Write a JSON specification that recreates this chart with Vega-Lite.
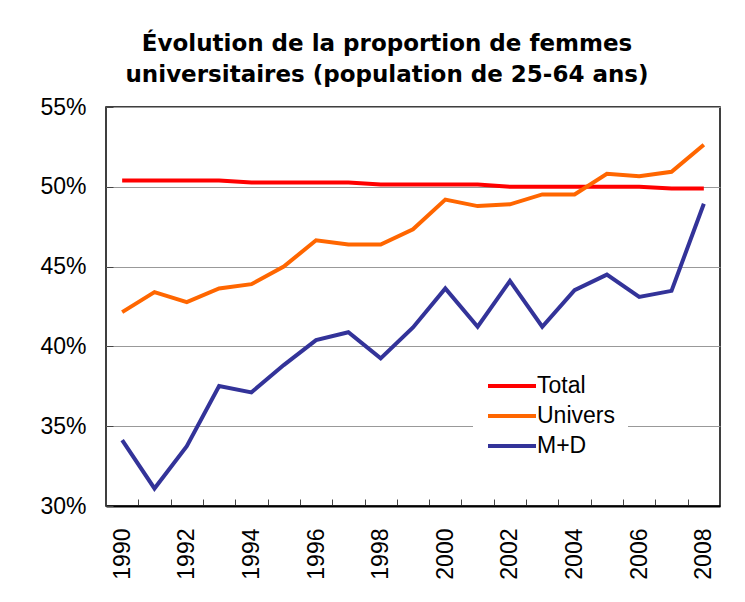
{
  "$schema": "https://vega.github.io/schema/vega-lite/v6.json",
  "width": 614,
  "height": 399,
  "autosize": {"type": "none"},
  "padding": {"left": 106, "top": 107, "right": 25, "bottom": 96},
  "background": "white",
  "title": {
    "text": ["Évolution de la proportion de femmes", "universitaires (population de 25-64 ans)"],
    "font": "DejaVu Sans",
    "fontSize": 23,
    "fontWeight": "bold",
    "color": "black",
    "lineHeight": 31,
    "anchor": "middle",
    "frame": "group",
    "dx": -26,
    "offset": 9
  },
  "config": {
    "view": {"stroke": "black", "strokeWidth": 1.5},
    "font": "Liberation Sans"
  },
  "data": {
    "values": [
      {"year": 1990, "series": "Total", "value": 0.5040},
      {"year": 1991, "series": "Total", "value": 0.5040},
      {"year": 1992, "series": "Total", "value": 0.5040},
      {"year": 1993, "series": "Total", "value": 0.5040},
      {"year": 1994, "series": "Total", "value": 0.5027},
      {"year": 1995, "series": "Total", "value": 0.5027},
      {"year": 1996, "series": "Total", "value": 0.5027},
      {"year": 1997, "series": "Total", "value": 0.5027},
      {"year": 1998, "series": "Total", "value": 0.5014},
      {"year": 1999, "series": "Total", "value": 0.5014},
      {"year": 2000, "series": "Total", "value": 0.5014},
      {"year": 2001, "series": "Total", "value": 0.5014},
      {"year": 2002, "series": "Total", "value": 0.5000},
      {"year": 2003, "series": "Total", "value": 0.5000},
      {"year": 2004, "series": "Total", "value": 0.5000},
      {"year": 2005, "series": "Total", "value": 0.5000},
      {"year": 2006, "series": "Total", "value": 0.5000},
      {"year": 2007, "series": "Total", "value": 0.4989},
      {"year": 2008, "series": "Total", "value": 0.4989},
      {"year": 1990, "series": "Univers", "value": 0.4215},
      {"year": 1991, "series": "Univers", "value": 0.4340},
      {"year": 1992, "series": "Univers", "value": 0.4277},
      {"year": 1993, "series": "Univers", "value": 0.4363},
      {"year": 1994, "series": "Univers", "value": 0.4390},
      {"year": 1995, "series": "Univers", "value": 0.4500},
      {"year": 1996, "series": "Univers", "value": 0.4665},
      {"year": 1997, "series": "Univers", "value": 0.4638},
      {"year": 1998, "series": "Univers", "value": 0.4638},
      {"year": 1999, "series": "Univers", "value": 0.4734},
      {"year": 2000, "series": "Univers", "value": 0.4920},
      {"year": 2001, "series": "Univers", "value": 0.4879},
      {"year": 2002, "series": "Univers", "value": 0.4890},
      {"year": 2003, "series": "Univers", "value": 0.4952},
      {"year": 2004, "series": "Univers", "value": 0.4952},
      {"year": 2005, "series": "Univers", "value": 0.5081},
      {"year": 2006, "series": "Univers", "value": 0.5066},
      {"year": 2007, "series": "Univers", "value": 0.5094},
      {"year": 2008, "series": "Univers", "value": 0.5264},
      {"year": 1990, "series": "M+D", "value": 0.3413},
      {"year": 1991, "series": "M+D", "value": 0.3110},
      {"year": 1992, "series": "M+D", "value": 0.3375},
      {"year": 1993, "series": "M+D", "value": 0.3752},
      {"year": 1994, "series": "M+D", "value": 0.3712},
      {"year": 1995, "series": "M+D", "value": 0.3883},
      {"year": 1996, "series": "M+D", "value": 0.4039},
      {"year": 1997, "series": "M+D", "value": 0.4089},
      {"year": 1998, "series": "M+D", "value": 0.3925},
      {"year": 1999, "series": "M+D", "value": 0.4119},
      {"year": 2000, "series": "M+D", "value": 0.4363},
      {"year": 2001, "series": "M+D", "value": 0.4123},
      {"year": 2002, "series": "M+D", "value": 0.4410},
      {"year": 2003, "series": "M+D", "value": 0.4123},
      {"year": 2004, "series": "M+D", "value": 0.4352},
      {"year": 2005, "series": "M+D", "value": 0.4450},
      {"year": 2006, "series": "M+D", "value": 0.4310},
      {"year": 2007, "series": "M+D", "value": 0.4348},
      {"year": 2008, "series": "M+D", "value": 0.4894}
    ]
  },
  "mark": {"type": "line", "strokeWidth": 4},
  "encoding": {
    "x": {
      "field": "year",
      "type": "ordinal",
      "bandPosition": 0.5,
      "scale": {"type": "band", "paddingInner": 0, "paddingOuter": 0},
      "axis": {
        "title": null,
        "tickBand": "extent",
        "tickSize": -7,
        "tickColor": "#444444",
        "domainColor": "black",
        "domainWidth": 2,
        "labelAngle": 270,
        "labelAlign": "right",
        "labelBaseline": "middle",
        "labelPadding": 29,
        "labelFontSize": 23,
        "labelColor": "black",
        "labelOverlap": false,
        "labelExpr": "datum.value % 2 == 0 ? datum.label : ''",
        "grid": false
      }
    },
    "y": {
      "field": "value",
      "type": "quantitative",
      "scale": {"domain": [0.30, 0.55], "nice": false, "zero": false},
      "axis": {
        "title": null,
        "values": [0.30, 0.35, 0.40, 0.45, 0.50, 0.55],
        "format": ".0%",
        "domain": false,
        "tickSize": -7,
        "tickColor": "#444444",
        "labelPadding": 27,
        "labelFontSize": 23,
        "labelColor": "black",
        "grid": true,
        "gridColor": "#999999",
        "gridWidth": 1
      }
    },
    "color": {
      "field": "series",
      "type": "nominal",
      "scale": {"domain": ["Total", "Univers", "M+D"], "range": ["#FF0000", "#FF6600", "#333399"]},
      "legend": {
        "title": null,
        "orient": "none",
        "legendX": 367,
        "legendY": 252,
        "padding": 13,
        "fillColor": "white",
        "symbolType": "M-1,0H3",
        "symbolSize": 576,
        "symbolStrokeWidth": 4,
        "labelOffset": 23,
        "labelFontSize": 23,
        "labelColor": "black",
        "rowPadding": 4
      }
    }
  }
}
